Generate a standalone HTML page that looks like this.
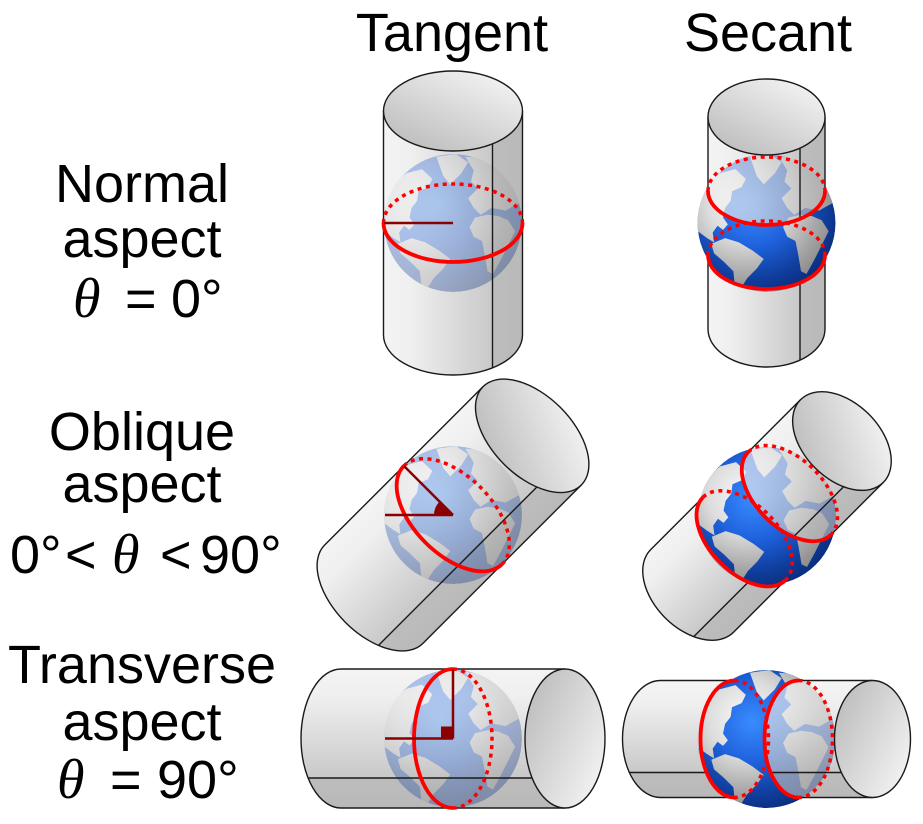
<!DOCTYPE html>
<html><head><meta charset="utf-8"><style>
html,body{margin:0;padding:0;background:#fff;}
svg{display:block;}
</style></head><body>
<svg width="923" height="824" viewBox="0 0 923 824" xmlns="http://www.w3.org/2000/svg">
<defs>
  <clipPath id="gc"><circle r="100"/></clipPath>
  <radialGradient id="oc" gradientUnits="userSpaceOnUse" cx="-20" cy="-25" r="130">
    <stop offset="0" stop-color="#3a8cff"/>
    <stop offset="0.45" stop-color="#1f62dd"/>
    <stop offset="0.8" stop-color="#103f9f"/>
    <stop offset="1" stop-color="#0a2f80"/>
  </radialGradient>
  <radialGradient id="ld" gradientUnits="userSpaceOnUse" cx="-30" cy="-30" r="140">
    <stop offset="0" stop-color="#fafafa"/>
    <stop offset="0.4" stop-color="#dcdcdc"/>
    <stop offset="0.75" stop-color="#a8a8a8"/>
    <stop offset="1" stop-color="#888888"/>
  </radialGradient>
  <linearGradient id="bg" x1="0" y1="0" x2="1" y2="0">
    <stop offset="0" stop-color="#f4f4f4"/>
    <stop offset="0.2" stop-color="#efefef"/>
    <stop offset="0.78" stop-color="#c9c9c9"/>
    <stop offset="0.785" stop-color="#bdbdbd"/>
    <stop offset="1" stop-color="#b9b9b9"/>
  </linearGradient>
  <linearGradient id="fg" x1="0.15" y1="0.95" x2="0.85" y2="0.05">
    <stop offset="0" stop-color="#bdbdbd"/>
    <stop offset="1" stop-color="#f3f3f3"/>
  </linearGradient>
  <g id="earth"><g transform="scale(0.69)"><g clip-path="url(#gc)">
    <circle r="100" fill="url(#oc)"/>
    <g fill="url(#ld)">
      <path d="M-105 -30 L-88 -55 L-68 -72 L-45 -78 L-30 -64 L-36 -52 L-50 -46 L-52 -32 L-60 -22 L-63 -8 L-56 2 L-63 10 L-71 4 L-78 14 L-76 28 L-86 22 L-105 8 Z"/>
      <path d="M-24 -96 L4 -100 L22 -88 L12 -72 L-4 -56 L-14 -68 Z"/>
      <path d="M18 -96 L46 -94 L72 -82 L92 -60 L98 -30 L76 -18 L56 -22 L40 -12 L30 -22 L22 -36 L36 -50 L26 -60 L30 -76 Z"/>
      <path d="M24 6 L32 -8 L50 -12 L66 -10 L80 -4 L90 12 L80 32 L70 52 L58 74 L50 70 L46 46 L42 26 L30 20 Z"/>
      <path d="M-80 30 L-60 22 L-40 28 L-20 40 L-4 52 L-14 66 L-28 80 L-38 96 L-46 90 L-48 70 L-62 56 L-76 44 Z"/>
    </g>
  </g></g></g>
  <clipPath id="bandN"><path d="M-58.5 -32 A58.5 34 0 0 0 58.5 -32 L100 -50 L100 50 L58.5 32 A58.5 34 0 0 1 -58.5 32 L-100 50 L-100 -50 Z"/></clipPath>
  <clipPath id="bandO"><path transform="rotate(45)" d="M-58.5 -32 A58.5 34 0 0 0 58.5 -32 L100 -50 L100 50 L58.5 32 A58.5 34 0 0 1 -58.5 32 L-100 50 L-100 -50 Z"/></clipPath>
  <clipPath id="bandT"><path transform="rotate(90)" d="M-58.5 -32 A58.5 34 0 0 0 58.5 -32 L100 -50 L100 50 L58.5 32 A58.5 34 0 0 1 -58.5 32 L-100 50 L-100 -50 Z"/></clipPath>
</defs>

<!-- ===== Tangent normal ===== -->
<g transform="translate(453,223)">
  <path d="M-69.5 -112 L-69.5 112 A69.5 40 0 0 0 69.5 112 L69.5 -112 A69.5 40 0 0 0 -69.5 -112Z" fill="url(#bg)"/>
  <use href="#earth" opacity="0.33"/>
  <g fill="none" stroke="#1a1a1a" stroke-width="1.4">
    <path d="M-69.5 -112 L-69.5 112 A69.5 40 0 0 0 69.5 112 L69.5 -112"/>
    <ellipse cx="0" cy="-112" rx="69.5" ry="40" fill="url(#fg)"/>
    <path d="M39.5 -79 L39.5 145"/>
  </g>
  <g fill="none" stroke="#ff0000">
    <path d="M-69.5 0 A69.5 39 0 0 0 69.5 0" stroke-width="3.8"/>
    <path d="M-69.5 0 A69.5 39 0 0 1 69.5 0" stroke-width="3.5" stroke-dasharray="4 4.5"/>
  </g>
  <path d="M-69 0 L0 0" stroke="#8b0000" stroke-width="2.5"/>
</g>

<!-- ===== Secant normal ===== -->
<g transform="translate(766.5,223)">
  <path d="M-58.5 -106 L-58.5 106 A58.5 38 0 0 0 58.5 106 L58.5 -106 A58.5 38 0 0 0 -58.5 -106Z" fill="url(#bg)"/>
  <use href="#earth" opacity="0.33"/>
  <g fill="none" stroke="#1a1a1a" stroke-width="1.4">
    <path d="M-58.5 -106 L-58.5 106 A58.5 38 0 0 0 58.5 106 L58.5 -106"/>
    <ellipse cx="0" cy="-106" rx="58.5" ry="38" fill="url(#fg)"/>
    <path d="M33.5 -75 L33.5 137"/>
  </g>
  <g clip-path="url(#bandN)"><use href="#earth"/></g>
  <g fill="none" stroke="#ff0000">
    <path d="M-58.5 -32 A58.5 34 0 0 0 58.5 -32" stroke-width="3.8"/>
    <path d="M-58.5 -32 A58.5 34 0 0 1 58.5 -32" stroke-width="3.5" stroke-dasharray="4 4.5"/>
    <path d="M-58.5 32 A58.5 34 0 0 0 58.5 32" stroke-width="3.8"/>
    <path d="M-58.5 32 A58.5 34 0 0 1 58.5 32" stroke-width="3.5" stroke-dasharray="4 4.5"/>
  </g>
</g>

<!-- ===== Tangent oblique ===== -->
<g transform="translate(453,515)">
  <g transform="rotate(45)">
    <path d="M-69.5 -112 L-69.5 112 A69.5 40 0 0 0 69.5 112 L69.5 -112 A69.5 40 0 0 0 -69.5 -112Z" fill="url(#bg)"/>
  </g>
  <use href="#earth" opacity="0.33"/>
  <g transform="rotate(45)" fill="none" stroke="#1a1a1a" stroke-width="1.4">
    <path d="M-69.5 -112 L-69.5 112 A69.5 40 0 0 0 69.5 112 L69.5 -112"/>
    <ellipse cx="0" cy="-112" rx="69.5" ry="40" fill="url(#fg)"/>
    <path d="M39.5 -79 L39.5 145"/>
  </g>
  <g transform="rotate(45)" fill="none" stroke="#ff0000">
    <path d="M-69.5 0 A69.5 39 0 0 0 69.5 0" stroke-width="3.8"/>
    <path d="M-69.5 0 A69.5 39 0 0 1 69.5 0" stroke-width="3.5" stroke-dasharray="4 4.5"/>
  </g>
  <g stroke="#8b0000" stroke-width="2.5" fill="none">
    <path d="M-68 0 L0 0"/>
    <path d="M-49 -49 L0 0"/>
  </g>
  <path d="M0 0 L-19 0 A19 19 0 0 1 -13.4 -13.4 Z" fill="#8b0000"/>
</g>

<!-- ===== Secant oblique ===== -->
<g transform="translate(767,516)">
  <g transform="rotate(45)">
    <path d="M-58.5 -106 L-58.5 106 A58.5 38 0 0 0 58.5 106 L58.5 -106 A58.5 38 0 0 0 -58.5 -106Z" fill="url(#bg)"/>
  </g>
  <use href="#earth" opacity="0.33"/>
  <g transform="rotate(45)" fill="none" stroke="#1a1a1a" stroke-width="1.4">
    <path d="M-58.5 -106 L-58.5 106 A58.5 38 0 0 0 58.5 106 L58.5 -106"/>
    <ellipse cx="0" cy="-106" rx="58.5" ry="38" fill="url(#fg)"/>
    <path d="M33.5 -75 L33.5 137"/>
  </g>
  <g clip-path="url(#bandO)"><use href="#earth"/></g>
  <g transform="rotate(45)" fill="none" stroke="#ff0000">
    <path d="M-58.5 -32 A58.5 34 0 0 0 58.5 -32" stroke-width="3.8"/>
    <path d="M-58.5 -32 A58.5 34 0 0 1 58.5 -32" stroke-width="3.5" stroke-dasharray="4 4.5"/>
    <path d="M-58.5 32 A58.5 34 0 0 0 58.5 32" stroke-width="3.8"/>
    <path d="M-58.5 32 A58.5 34 0 0 1 58.5 32" stroke-width="3.5" stroke-dasharray="4 4.5"/>
  </g>
</g>

<!-- ===== Tangent transverse ===== -->
<g transform="translate(453,738.5)">
  <g transform="rotate(90)">
    <path d="M-69.5 -112 L-69.5 112 A69.5 40 0 0 0 69.5 112 L69.5 -112 A69.5 40 0 0 0 -69.5 -112Z" fill="url(#bg)"/>
  </g>
  <use href="#earth" opacity="0.33"/>
  <g transform="rotate(90)" fill="none" stroke="#1a1a1a" stroke-width="1.4">
    <path d="M-69.5 -112 L-69.5 112 A69.5 40 0 0 0 69.5 112 L69.5 -112"/>
    <ellipse cx="0" cy="-112" rx="69.5" ry="40" fill="url(#fg)"/>
    <path d="M39.5 -79 L39.5 145"/>
  </g>
  <g transform="rotate(90)" fill="none" stroke="#ff0000">
    <path d="M-69.5 0 A69.5 39 0 0 0 69.5 0" stroke-width="3.8"/>
    <path d="M-69.5 0 A69.5 39 0 0 1 69.5 0" stroke-width="3.5" stroke-dasharray="4 4.5"/>
  </g>
  <g stroke="#8b0000" stroke-width="2.5" fill="none">
    <path d="M-68 0 L0 0"/>
    <path d="M0 -69 L0 0"/>
  </g>
  <rect x="-12" y="-12" width="12" height="12" fill="#8b0000"/>
</g>

<!-- ===== Secant transverse ===== -->
<g transform="translate(766.5,739)">
  <g transform="rotate(90)">
    <path d="M-58.5 -106 L-58.5 106 A58.5 38 0 0 0 58.5 106 L58.5 -106 A58.5 38 0 0 0 -58.5 -106Z" fill="url(#bg)"/>
  </g>
  <use href="#earth" opacity="0.33"/>
  <g transform="rotate(90)" fill="none" stroke="#1a1a1a" stroke-width="1.4">
    <path d="M-58.5 -106 L-58.5 106 A58.5 38 0 0 0 58.5 106 L58.5 -106"/>
    <ellipse cx="0" cy="-106" rx="58.5" ry="38" fill="url(#fg)"/>
    <path d="M33.5 -75 L33.5 137"/>
  </g>
  <g clip-path="url(#bandT)"><use href="#earth"/></g>
  <g transform="rotate(90)" fill="none" stroke="#ff0000">
    <path d="M-58.5 -32 A58.5 34 0 0 0 58.5 -32" stroke-width="3.8"/>
    <path d="M-58.5 -32 A58.5 34 0 0 1 58.5 -32" stroke-width="3.5" stroke-dasharray="4 4.5"/>
    <path d="M-58.5 32 A58.5 34 0 0 0 58.5 32" stroke-width="3.8"/>
    <path d="M-58.5 32 A58.5 34 0 0 1 58.5 32" stroke-width="3.5" stroke-dasharray="4 4.5"/>
  </g>
</g>

<!-- ===== Labels ===== -->
<g font-family="'Liberation Sans', Arial, sans-serif" font-size="54" fill="#000">
  <text x="452" y="51" text-anchor="middle">Tangent</text>
  <text x="768" y="51" text-anchor="middle">Secant</text>

  <text x="142" y="202" text-anchor="middle">Normal</text>
  <text x="142" y="257" text-anchor="middle">aspect</text>
  <text y="317"><tspan x="73" font-family="'Liberation Serif', serif" font-style="italic" font-size="56">θ</tspan><tspan x="125">=</tspan><tspan x="171">0°</tspan></text>

  <text x="142" y="450" text-anchor="middle">Oblique</text>
  <text x="142" y="502" text-anchor="middle">aspect</text>
  <text y="573"><tspan x="10">0°</tspan><tspan x="65">&lt;</tspan><tspan x="112" font-family="'Liberation Serif', serif" font-style="italic" font-size="56">θ</tspan><tspan x="160">&lt;</tspan><tspan x="200">90°</tspan></text>

  <text x="142" y="683" text-anchor="middle">Transverse</text>
  <text x="142" y="740" text-anchor="middle">aspect</text>
  <text y="798"><tspan x="57" font-family="'Liberation Serif', serif" font-style="italic" font-size="56">θ</tspan><tspan x="110">=</tspan><tspan x="157">90°</tspan></text>
</g>
</svg>
</body></html>
